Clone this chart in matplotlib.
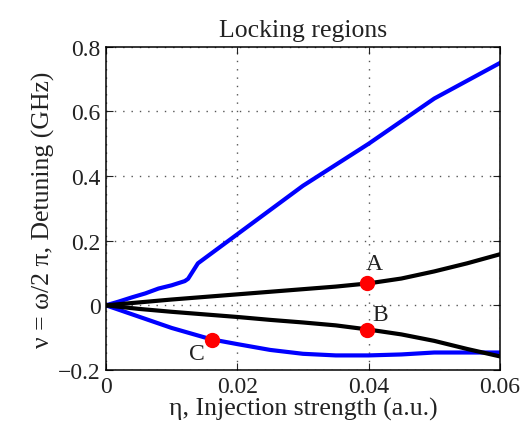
import numpy as np
import matplotlib
matplotlib.use('Agg')
import matplotlib.pyplot as plt

plt.rcParams['font.family'] = ['Liberation Serif', 'DejaVu Serif']

# Upper boundary of locking region (blue)
eta_up = [0, 0.002, 0.004, 0.006, 0.008, 0.010, 0.012, 0.0125, 0.014, 0.016,
          0.018, 0.020, 0.022, 0.030, 0.040, 0.050, 0.060]
nu_up = [0, 0.012, 0.025, 0.037, 0.052, 0.062, 0.075, 0.082, 0.13, 0.16,
         0.19, 0.22, 0.25, 0.37, 0.50, 0.64, 0.75]

# Lower boundary of locking region (blue)
eta_lo = [0, 0.005, 0.010, 0.016, 0.020, 0.025, 0.030, 0.035, 0.040, 0.045,
          0.050, 0.055, 0.060]
nu_lo = [0, -0.035, -0.07, -0.105, -0.12, -0.138, -0.15, -0.155, -0.155,
         -0.152, -0.146, -0.146, -0.146]

# Black curves
eta_k = [0, 0.005, 0.010, 0.015, 0.020, 0.025, 0.030, 0.035, 0.040, 0.045,
         0.050, 0.055, 0.060]
nu_k_up = [0, 0.009, 0.018, 0.026, 0.034, 0.042, 0.050, 0.058, 0.068, 0.083,
           0.105, 0.13, 0.158]
nu_k_lo = [0, -0.011, -0.020, -0.028, -0.036, -0.045, -0.053, -0.062, -0.075,
           -0.09, -0.11, -0.135, -0.158]

# Marked operating points
pt_labels = ['A', 'B', 'C']
pt_eta = [0.0397, 0.0397, 0.0162]
pt_nu = [0.068, -0.075, -0.106]

fig = plt.figure(figsize=(5.24, 4.39), dpi=100)
ax = fig.add_axes([0.2023, 0.155, 0.7517, 0.736])

ax.plot(eta_up, nu_up, color='#0000ff', lw=3)
ax.plot(eta_lo, nu_lo, color='#0000ff', lw=3)
ax.plot(eta_k, nu_k_up, color='k', lw=3)
ax.plot(eta_k, nu_k_lo, color='k', lw=3)
ax.plot(pt_eta, pt_nu, 'o', color='#ff0000', ms=10, zorder=5)

offsets = [(0.0012, 0.062), (0.002, 0.047), (-0.0023, -0.043)]
for lab, x, y, (dx, dy) in zip(pt_labels, pt_eta, pt_nu, offsets):
    ax.text(x + dx, y + dy, lab, fontsize=17, ha='center', va='center', color='#222222')

ax.set_xlim(0, 0.06)
ax.set_ylim(-0.2, 0.8)
ax.set_xticks([0, 0.02, 0.04, 0.06])
ax.set_xticklabels(['0', '0.02', '0.04', '0.06'])
ax.set_yticks([-0.2, 0, 0.2, 0.4, 0.6, 0.8])
ax.set_yticklabels(['\u22120.2', '0', '0.2', '0.4', '0.6', '0.8'])
ax.tick_params(direction='in', top=True, right=True, labelsize=17, length=5, width=0.8,
               colors='#222222', pad=4)
ax.grid(True, linestyle=(0, (1, 5)), color='#555555', lw=1.0)
for s in ax.spines.values():
    s.set_linewidth(1.1)

ax.set_title('Locking regions', fontsize=18.5, pad=8, color='#222222')
ax.set_xlabel('\u03b7, Injection strength (a.u.)', fontsize=18.5, labelpad=0, color='#222222')
ax.set_ylabel('\u03bd = \u03c9/2 \u03c0, Detuning (GHz)', fontsize=18.5, labelpad=2, color='#222222')

fig.savefig('out.png', dpi=100)
